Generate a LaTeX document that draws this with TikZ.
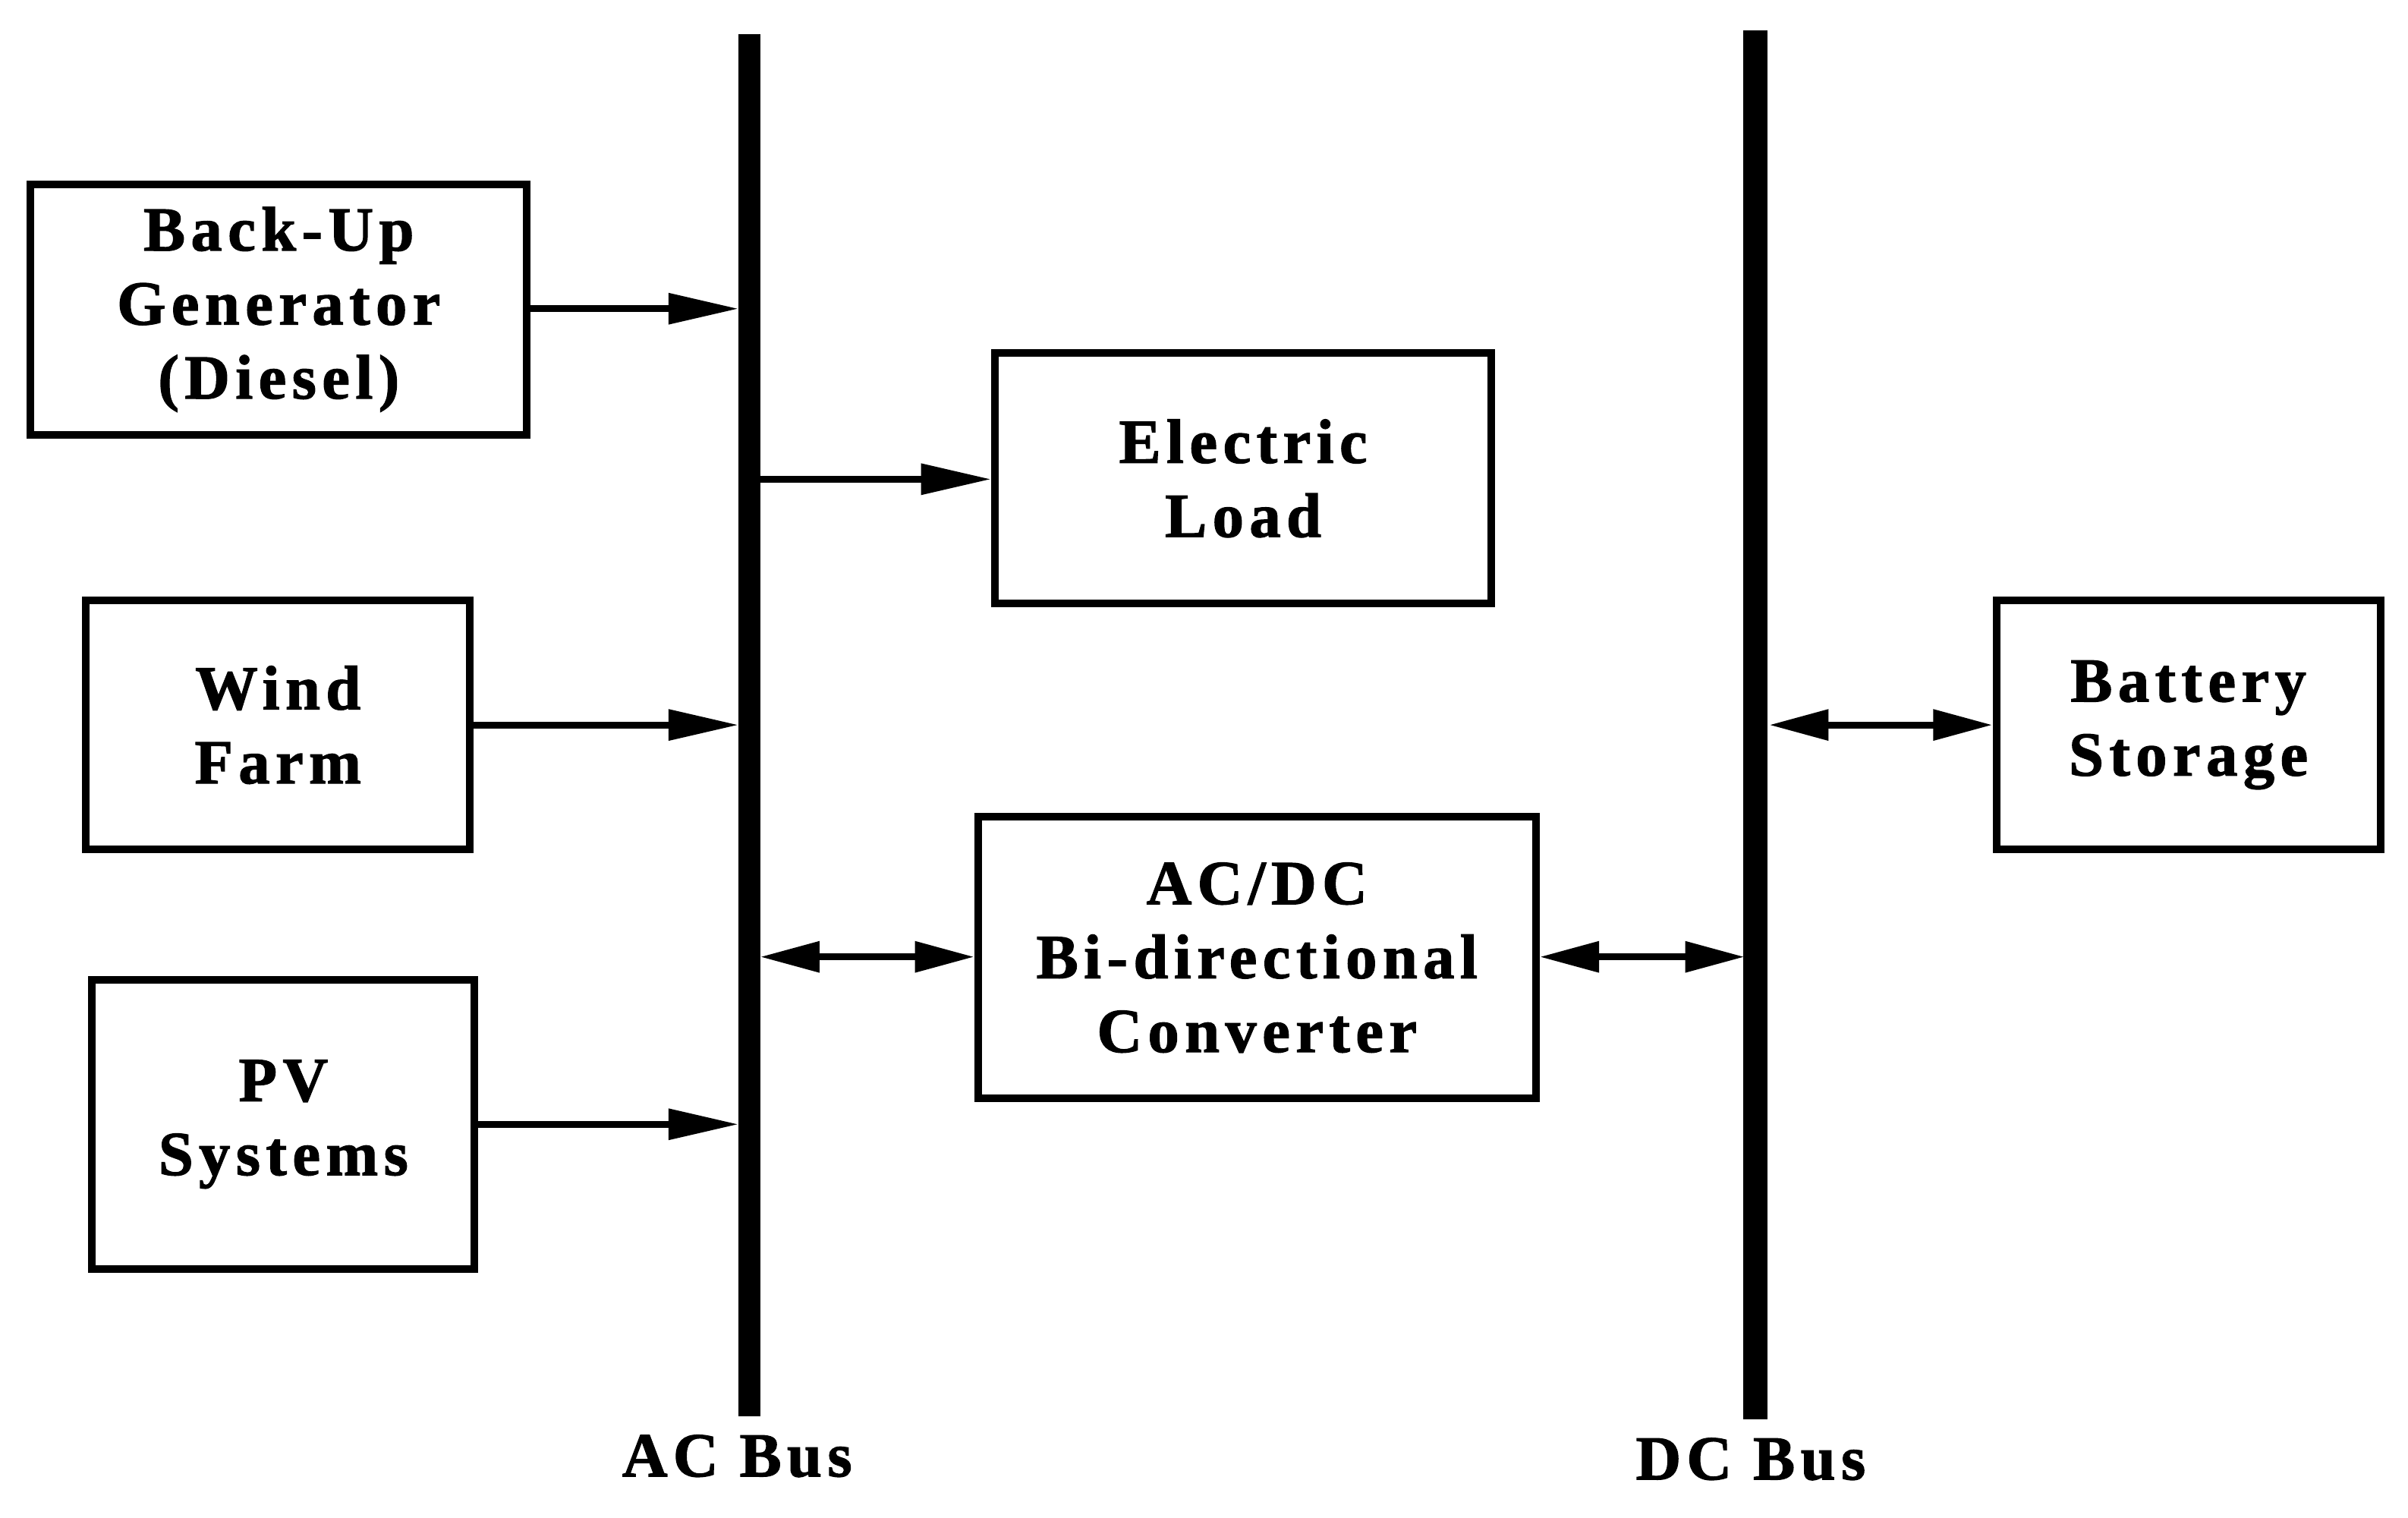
\documentclass[tikz,border=0pt]{standalone}
\usepackage{fontspec}
\setmainfont{Liberation Serif}[LetterSpace=9,FakeBold=1.5]
\usetikzlibrary{arrows.meta}
\begin{document}
\begin{tikzpicture}[x=0.01cm,y=-0.01cm,
  box/.style={draw,line width=1.4pt,inner sep=0pt,font=\bfseries\fontsize{11.6pt}{13.7pt}\selectfont,align=center},
  arr/.style={line width=1.3pt,-{Triangle[length=13pt,width=5.5pt]}},
  darr/.style={line width=1.3pt,{Triangle[length=11pt,width=5.5pt]}-{Triangle[length=11pt,width=5.5pt]}},
  bus/.style={line width=4.2pt},
  lab/.style={font=\bfseries\fontsize{11.6pt}{13pt}\selectfont}]
\useasboundingbox (0,0) rectangle (1568,988);
\node[box,minimum width=3.23cm,minimum height=1.63cm] (gen) at (181.5,201.5) {Back-Up\\Generator\\(Diesel)};
\node[box,minimum width=2.5cm,minimum height=1.62cm] (wind) at (181,472) {Wind\\Farm};
\node[box,minimum width=2.49cm,minimum height=1.88cm] (pv) at (184.5,732) {PV\\Systems};
\node[box,minimum width=3.23cm,minimum height=1.63cm] (load) at (809.5,311.5) {Electric\\Load};
\node[box,minimum width=3.63cm,minimum height=1.83cm] (conv) at (818.5,623.5) {AC/DC\\Bi-directional\\Converter};
\node[box,minimum width=2.5cm,minimum height=1.62cm] (bat) at (1425,472) {Battery\\Storage};
\coordinate (act) at (488,22); \coordinate (acb) at (488,922);
\coordinate (dct) at (1143,20); \coordinate (dcb) at (1143,924);
\draw[bus] (act) -- (acb);
\draw[bus,line width=4.6pt] (dct) -- (dcb);
\node[lab] (acl) at (480,948) {AC Bus};
\node[lab] (dcl) at (1140,950) {DC Bus};
\coordinate (a1) at (481,201); \coordinate (a2) at (481,472); \coordinate (a3) at (481,732);
\coordinate (a4) at (495,312); \coordinate (a5) at (495,623); \coordinate (d1) at (1136,623); \coordinate (d2) at (1152,472);
\draw[arr] (gen.east|-a1) -- (a1);
\draw[arr] (wind.east|-a2) -- (a2);
\draw[arr] (pv.east|-a3) -- (a3);
\draw[arr] (a4) -- (load.west|-a4);
\draw[darr] (a5) -- (conv.west|-a5);
\draw[darr] (conv.east|-d1) -- (d1);
\draw[darr] (d2) -- (bat.west|-d2);
\end{tikzpicture}
\end{document}
